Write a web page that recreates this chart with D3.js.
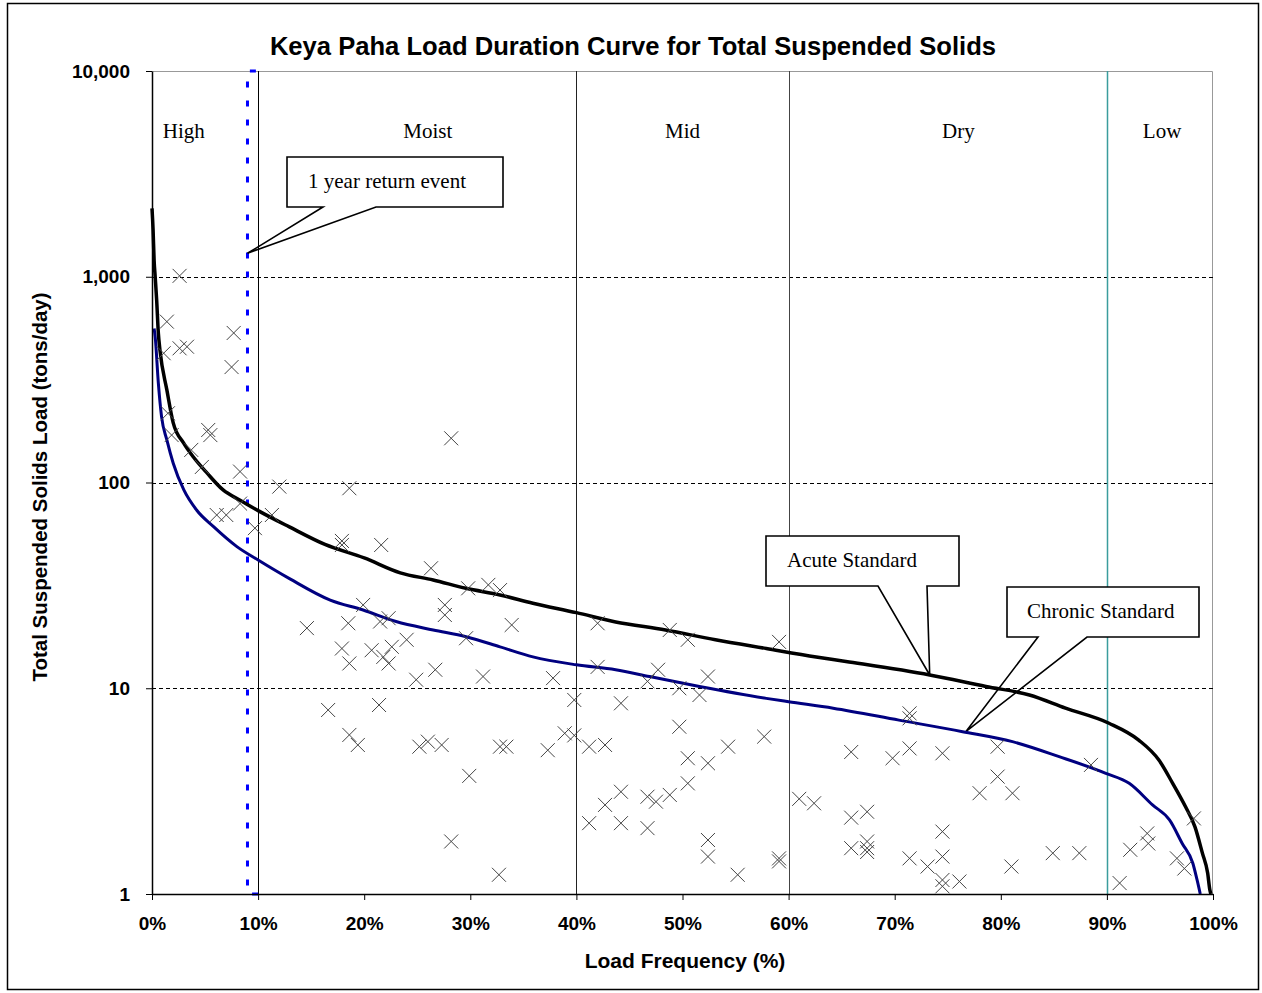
<!DOCTYPE html>
<html>
<head>
<meta charset="utf-8">
<script src="https://cdn.jsdelivr.net/npm/d3@7"></script>
<style>
  body { margin: 0; background: #fff; }
  svg { display: block; }
</style>
</head>
<body>
<div id="chart"></div>
<script>
// Load duration curve data (percent of time load is exceeded, tons/day)
var acutePct = [0, 0.1, 0.2, 0.3, 0.44, 0.6, 0.75, 1.4, 2.0, 3.0, 3.9, 5.2, 6.7, 8.3, 10, 12.9, 16.3, 20, 23.4, 26.5, 29.6, 32.8, 35.9, 40, 43.7, 48.4, 53.1, 57.9, 62.6, 65.4, 73.3, 78.6, 82.7, 86.1, 90.2, 93.0, 94.9, 96.2, 97.4, 98.3, 99.0, 99.5, 99.7, 99.8];
var acuteLoad = [2150, 1700, 1200, 1000, 770, 530, 440, 282, 195, 155, 133, 111, 92, 82, 73, 61, 50, 43, 36.4, 33.6, 30.6, 28.4, 25.9, 23.3, 21.0, 19.2, 17.2, 15.6, 14.2, 13.5, 11.6, 10.2, 9.27, 8.0, 6.76, 5.6, 4.48, 3.45, 2.66, 2.12, 1.58, 1.26, 1.05, 1.0];

var chronicPct = [0.2, 0.3, 0.6, 0.9, 1.4, 2.0, 3.0, 4.2, 5.8, 8.0, 10, 13, 16.8, 19.9, 23, 26.5, 29.6, 32.8, 35.9, 40, 43.7, 46.9, 51.6, 57.9, 60, 64.2, 70.4, 76.4, 81.1, 85.5, 89.9, 92.1, 94.3, 95.9, 97.1, 98.1, 98.5, 98.8];
var chronicLoad = [560, 510, 303, 209, 161, 124, 92, 73.5, 61, 48.8, 42, 34, 26.8, 24, 21.1, 19.2, 17.8, 15.9, 14.2, 13.0, 12.3, 11.4, 10.2, 8.93, 8.6, 8.0, 7.0, 6.15, 5.5, 4.65, 3.86, 3.45, 2.71, 2.29, 1.76, 1.41, 1.17, 1.0];

// observed samples
var samplePct = [2.6, 1.4, 2.6, 3.3, 1.1, 7.7, 7.5, 1.5, 1.85, 5.3, 5.5, 3.7, 4.7, 8.3, 12.0, 18.6, 6.1, 7.0, 8.3, 9.7, 11.3, 17.9, 17.9, 21.6, 28.2,
  14.6, 18.5, 21.5, 22.3, 19.9, 27.6, 27.6, 33.9, 17.9, 18.6, 20.7, 21.8, 22.6, 22.3, 24.0, 24.9, 26.7, 29.6, 31.2, 16.6, 21.4, 18.6, 19.4, 25.2, 26.0, 27.3, 32.8, 33.4, 37.3, 29.9, 28.2, 32.7, 26.3, 29.8, 31.7, 32.8, 37.8, 39.8, 38.9, 39.8,
  41.2, 42.7, 42.0, 42.0, 44.2, 46.7, 47.7, 49.7, 51.6, 52.4, 48.8, 50.5, 49.7, 50.5, 52.4, 50.5, 54.3, 57.7, 42.7, 44.2, 41.2, 44.2, 46.7, 47.5, 48.8, 46.7, 52.4, 52.4, 55.2, 59.1, 59.1, 59.1,
  61.0, 62.4, 65.9, 69.8, 65.9, 67.4, 65.9, 67.4, 67.4, 67.4, 71.4, 71.4, 71.4, 74.5, 79.7, 79.7, 78.0, 81.1, 74.5, 71.4, 73.1, 74.5, 74.5, 76.1, 74.5, 81.0, 84.9, 87.4, 88.5,
  91.2, 92.2, 93.8, 93.9, 96.6, 97.3, 98.2];
var sampleLoad = [1010, 605, 449, 457, 425, 533, 364, 217, 170, 180, 170, 144, 119, 113, 95.5, 93.8, 69.5, 69.5, 79, 60, 69.5, 49.7, 52, 49.7, 164,
  19.6, 20.7, 21.1, 21.9, 25.4, 25.4, 22.7, 20.3, 15.6, 13.2, 15.3, 14.2, 15.9, 13.2, 17.2, 11.0, 12.3, 17.5, 11.4, 7.84, 8.29, 5.93, 5.3, 5.2, 5.5, 5.3, 5.2, 5.2, 5.0, 3.75, 1.8, 1.24, 38.3, 30.6, 31.8, 30.0, 11.2, 8.77, 6.04, 5.9,
  5.2, 5.3, 12.7, 20.7, 8.45, 10.8, 12.3, 10.0, 9.27, 11.4, 19.2, 17.2, 6.5, 4.57, 4.32, 3.45, 5.2, 5.82, 2.71, 3.14, 2.21, 2.21, 2.97, 2.81, 3.03, 2.09, 1.83, 1.52, 1.24, 1.49, 1.44, 16.8,
  2.9, 2.76, 4.9, 4.57, 2.35, 2.51, 1.67, 1.8, 1.67, 1.6, 7.55, 7.14, 5.1, 4.83, 5.2, 3.72, 3.09, 3.09, 2.01, 1.49, 1.36, 1.52, 1.17, 1.15, 1.09, 1.36, 1.58, 1.58, 4.24,
  1.13, 1.64, 1.97, 1.76, 1.49, 1.33, 2.33];

// 1 year return event marker
var returnPct = [10, 9, 9, 10];
var returnLoad = [1, 1, 10000, 10000];

// flow zones
var zoneBounds = [10, 40, 60, 90];
var zoneColors = ["#000", "#222", "#444", "#3a9d9d"];
var zoneNames = ["High", "Moist", "Mid", "Dry", "Low"];
var zoneLabelPct = [3, 26, 50, 76, 95.2];

var xTicks = [0, 10, 20, 30, 40, 50, 60, 70, 80, 90, 100];
var yTicks = [1, 10, 100, 1000, 10000];
var gridValues = [10, 100, 1000];

function setUpChart() {
  var svgWidth = 1262;
  var svgHeight = 993;
  var margin = { top: 71, right: 49, bottom: 99, left: 152 };
  var width = svgWidth - margin.left - margin.right;
  var height = svgHeight - margin.top - margin.bottom;

  var svg = d3.select("#chart")
    .append("svg")
    .attr("width", svgWidth)
    .attr("height", svgHeight);

  // outer frame
  svg.append("rect")
    .attr("x", 7.5).attr("y", 3.5)
    .attr("width", 1251).attr("height", 986)
    .attr("fill", "#fff")
    .attr("stroke", "#000")
    .attr("stroke-width", 1.5);

  var chartGroup = svg.append("g")
    .attr("transform", `translate(${margin.left}, ${margin.top})`);

  var x = d3.scaleLinear().domain([0, 100]).range([0, width]);
  var y = d3.scaleLog().domain([1, 10000]).range([height, 0]);

  // plot border (gray top/right)
  chartGroup.append("path")
    .attr("d", `M0,0.5H${width - 0.5}V${height}`)
    .attr("fill", "none")
    .attr("stroke", "#999")
    .attr("stroke-width", 1);

  // dashed gridlines
  chartGroup.selectAll(".grid")
    .data(gridValues)
    .enter()
    .append("line")
    .attr("x1", 0).attr("x2", width)
    .attr("y1", d => Math.round(y(d)) + 0.5)
    .attr("y2", d => Math.round(y(d)) + 0.5)
    .attr("stroke", "#000")
    .attr("stroke-width", 1)
    .attr("stroke-dasharray", "4,3");

  // zone boundary lines
  chartGroup.selectAll(".zone")
    .data(zoneBounds)
    .enter()
    .append("line")
    .attr("x1", d => Math.round(x(d)) + 0.5)
    .attr("x2", d => Math.round(x(d)) + 0.5)
    .attr("y1", 0).attr("y2", height)
    .attr("stroke", (d, i) => zoneColors[i])
    .attr("stroke-width", (d, i) => i == 3 ? 1.5 : 1);

  // zone labels
  chartGroup.selectAll(".zoneLabel")
    .data(zoneNames)
    .enter()
    .append("text")
    .attr("x", (d, i) => x(zoneLabelPct[i]))
    .attr("y", 67)
    .attr("text-anchor", "middle")
    .attr("font-family", "'Liberation Serif', 'Times New Roman', serif")
    .attr("font-size", "21px")
    .text(d => d);

  // 1 year return event line
  var returnLine = d3.line()
    .x((d, i) => x(returnPct[i]))
    .y((d, i) => y(returnLoad[i]));
  chartGroup.append("path")
    .attr("d", returnLine(returnPct))
    .attr("fill", "none")
    .attr("stroke", "#0000ff")
    .attr("stroke-width", 3)
    .attr("stroke-dasharray", "6,13");

  // callouts
  function callout(box, tip, baseA, baseB, label, textX) {
    var g = chartGroup.append("g");
    g.append("rect")
      .attr("x", box[0]).attr("y", box[1])
      .attr("width", box[2] - box[0]).attr("height", box[3] - box[1])
      .attr("fill", "#fff");
    g.append("path")
      .attr("d", `M${baseA},${box[3]}H${box[0]}V${box[1]}H${box[2]}V${box[3]}H${baseB}L${tip[0]},${tip[1]}Z`)
      .attr("fill", "none")
      .attr("stroke", "#000")
      .attr("stroke-width", 1.6)
      .attr("stroke-linejoin", "miter");
    g.append("text")
      .attr("x", textX)
      .attr("y", (box[1] + box[3]) / 2 + 6)
      .attr("font-family", "'Liberation Serif', 'Times New Roman', serif")
      .attr("font-size", "21px")
      .text(label);
  }
  callout([135, 86, 351, 136], [x(9), y(1300)], 171, 224, "1 year return event", 156);
  callout([614, 465, 807, 515], [x(73.3), y(11.6)], 726, 775, "Acute Standard", 635);
  callout([855, 516, 1047, 566], [x(76.7), y(6.15)], 886, 935, "Chronic Standard", 875);

  // load duration curves
  var acuteLine = d3.line()
    .x((d, i) => x(acutePct[i]))
    .y((d, i) => y(acuteLoad[i]))
    .curve(d3.curveMonotoneX);
  chartGroup.append("path")
    .attr("d", acuteLine(acutePct))
    .attr("fill", "none")
    .attr("stroke", "#000")
    .attr("stroke-width", 3.5);

  var chronicLine = d3.line()
    .x((d, i) => x(chronicPct[i]))
    .y((d, i) => y(chronicLoad[i]))
    .curve(d3.curveMonotoneX);
  chartGroup.append("path")
    .attr("d", chronicLine(chronicPct))
    .attr("fill", "none")
    .attr("stroke", "#000080")
    .attr("stroke-width", 3);

  // sample markers
  chartGroup.selectAll(".sample")
    .data(samplePct)
    .enter()
    .append("path")
    .attr("transform", (d, i) => `translate(${x(d)}, ${y(sampleLoad[i])})`)
    .attr("d", "M-7,-7L7,7M-7,7L7,-7")
    .attr("stroke", "#444")
    .attr("stroke-width", 1)
    .attr("fill", "none");

  // axes
  var bottomAxis = d3.axisBottom(x)
    .tickValues(xTicks)
    .tickFormat(d => d + "%")
    .tickSizeInner(6).tickSizeOuter(0)
    .tickPadding(17);
  var leftAxis = d3.axisLeft(y)
    .tickValues(yTicks)
    .tickFormat(d3.format(","))
    .tickSizeInner(6).tickSizeOuter(0)
    .tickPadding(16);

  var xAxisG = chartGroup.append("g")
    .attr("transform", `translate(0, ${height})`)
    .call(bottomAxis);
  var yAxisG = chartGroup.append("g")
    .call(leftAxis);

  [xAxisG, yAxisG].forEach(function(g) {
    g.select(".domain").attr("stroke", "#000").attr("stroke-width", 1.5);
    g.selectAll(".tick line").attr("stroke", "#000");
    g.selectAll("text")
      .attr("font-family", "'Liberation Sans', Arial, sans-serif")
      .attr("font-weight", "bold")
      .attr("font-size", "19px")
      .attr("fill", "#000");
  });

  // title
  svg.append("text")
    .attr("x", 633)
    .attr("y", 55)
    .attr("text-anchor", "middle")
    .attr("font-family", "'Liberation Sans', Arial, sans-serif")
    .attr("font-weight", "bold")
    .attr("font-size", "25.6px")
    .text("Keya Paha Load Duration Curve for Total Suspended Solids");

  // axis titles
  svg.append("text")
    .attr("transform", "translate(47, 487) rotate(-90)")
    .attr("text-anchor", "middle")
    .attr("font-family", "'Liberation Sans', Arial, sans-serif")
    .attr("font-weight", "bold")
    .attr("font-size", "20.5px")
    .text("Total Suspended Solids Load (tons/day)");

  svg.append("text")
    .attr("x", 685)
    .attr("y", 968)
    .attr("text-anchor", "middle")
    .attr("font-family", "'Liberation Sans', Arial, sans-serif")
    .attr("font-weight", "bold")
    .attr("font-size", "21px")
    .text("Load Frequency (%)");
}

setUpChart();
</script>
</body>
</html>
